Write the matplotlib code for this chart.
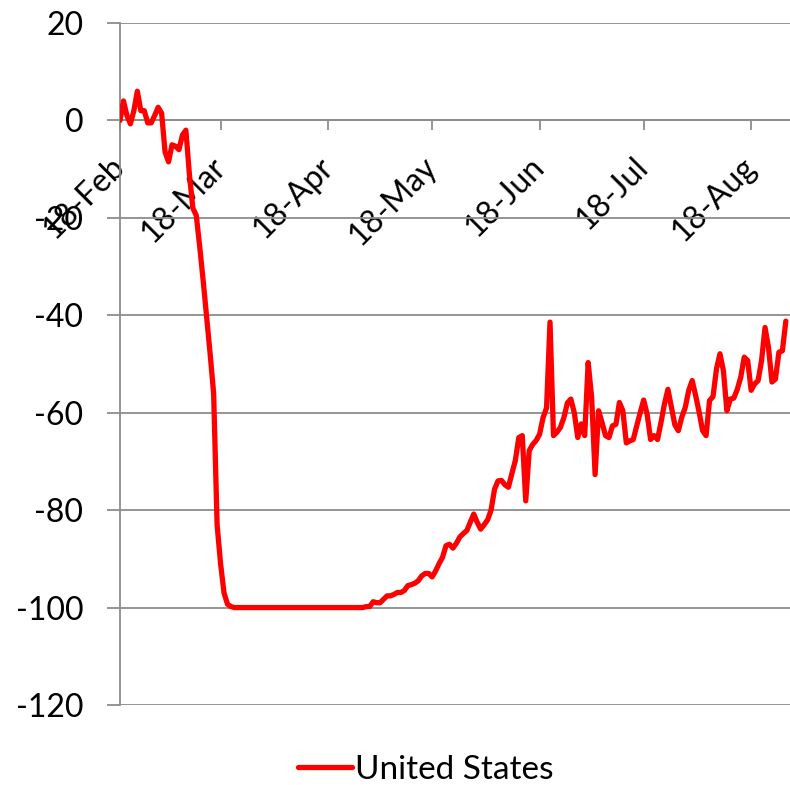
import matplotlib
matplotlib.use("Agg")
import matplotlib.pyplot as plt
import matplotlib.dates as mdates
import pandas as pd
import numpy as np

start_date = "2020-02-18"
series_name = "United States"
values = [
    0, 4, 1, -0.7, 2, 6, 2, 2, -0.5, -0.5,
    1, 2.7, 1.5, -6.5, -8.5, -5, -5.3, -6, -3, -2,
    -11, -18, -19.5, -26, -33, -40.5, -48, -56, -83, -91,
    -97, -99.3, -99.8,
    -100, -100, -100, -100, -100, -100, -100, -100, -100, -100,
    -100, -100, -100, -100, -100, -100, -100, -100, -100, -100,
    -100, -100, -100, -100, -100, -100, -100, -100, -100, -100,
    -100, -100, -100, -100, -100, -100, -100, -100,
    -99.8, -99.8, -98.8, -99, -99, -98.3, -97.6, -97.6, -97.3,
    -96.9, -96.9, -96.5, -95.5, -95.3, -95, -94.5, -93.5, -93, -93,
    -93.7, -92.5, -91, -89.7, -87.3, -87, -87.8, -86.8, -85.5, -84.8,
    -84.2, -82.5, -80.8, -82.5, -83.9, -83, -82, -80, -75.7, -74,
    -73.9, -74.8, -75.3, -72.5, -69.8, -65.1, -64.7, -78.1, -67.8, -66.5,
    -65.7, -64.4, -61, -59, -41.4, -64.7, -64, -63, -61, -58,
    -57.2, -60, -65.1, -62.3, -64.7, -49.7, -56.8, -72.7, -59.6, -62,
    -64.7, -65.1, -62.7, -62.4, -57.9, -59.6, -66.2, -65.8, -65.5, -62.7,
    -60, -57.4, -60.3, -65.5, -64.7, -65.5, -62, -58.2, -55.2, -58.9,
    -62.5, -63.7, -60.9, -58.9, -55.4, -53.4, -56.5, -59.9, -63.7, -64.7,
    -57.5, -56.7, -51, -47.9, -51.4, -59.6, -57.2, -57, -55.2, -52.7,
    -48.6, -49.3, -55.4, -54.1, -53.4, -49.3, -42.5, -46.6, -53.7, -53.1,
    -47.6, -47.3, -41.2,
]
y_ticks = [-120, -100, -80, -60, -40, -20, 0, 20]

dates = pd.date_range(start_date, periods=len(values), freq="D")

plt.rcParams["font.family"] = ["Lato", "DejaVu Sans"]
plt.rcParams["axes.unicode_minus"] = False

W, H = 790, 785
fig = plt.figure(figsize=(W / 100, H / 100), dpi=100)
ax = fig.add_axes([120 / W, 1 - 705 / H, 670 / W, (705 - 23) / H])

grid_c = "#8c8c8c"
ax.plot(dates, values, color="#ff0000", lw=3.8, solid_joinstyle="round",
        solid_capstyle="round", label=series_name, zorder=3)

ax.set_ylim(-120, 20)
ax.set_yticks(y_ticks)
ax.set_yticklabels([str(v) for v in y_ticks])
ax.set_xlim(dates[0], dates[-1] + pd.Timedelta(days=1.2))
ax.yaxis.grid(True, color=grid_c, lw=1.3, zorder=0)

for s in ["top", "right"]:
    ax.spines[s].set_visible(False)
ax.spines["left"].set_color(grid_c)
ax.spines["left"].set_linewidth(1.3)
ax.spines["bottom"].set_position(("data", 0))
ax.spines["bottom"].set_color(grid_c)
ax.spines["bottom"].set_linewidth(1.3)

ax.xaxis.set_major_locator(mdates.MonthLocator(bymonthday=18))
ax.xaxis.set_major_formatter(mdates.DateFormatter("%d-%b"))

ax.tick_params(axis="y", length=9.5, width=1.3, color=grid_c, pad=17,
               labelsize=23, labelcolor="black")
ax.tick_params(axis="x", length=7, width=1.3, color=grid_c, pad=23,
               labelsize=23, labelcolor="black")
for lab in ax.get_xticklabels():
    lab.set_rotation(45)
    lab.set_ha("right")
    lab.set_va("center")
    lab.set_rotation_mode("anchor")

fig.legend(loc="center", bbox_to_anchor=(426 / W, 1 - 770 / H), frameon=False,
           fontsize=24, handlelength=1.6, handletextpad=0.1)

fig.savefig("out.png", dpi=100)
